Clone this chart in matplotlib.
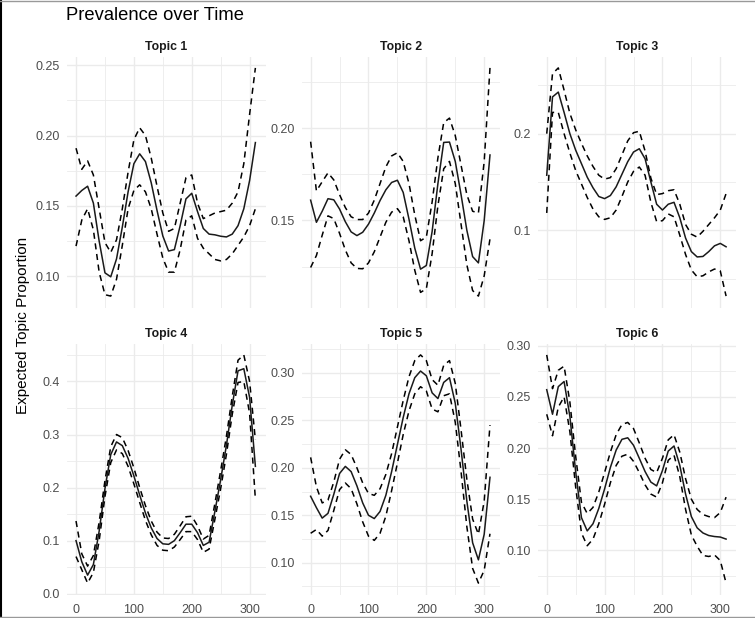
import numpy as np
import matplotlib
matplotlib.use("Agg")
import matplotlib.pyplot as plt
from matplotlib.ticker import MultipleLocator, FormatStrFormatter
from matplotlib.lines import Line2D

plt.rcParams['font.family'] = ['Liberation Sans', 'DejaVu Sans']

# time points (every 10 units)
time = np.arange(0, 320, 10)

topic1_mean = [0.157, 0.161, 0.164, 0.152, 0.125, 0.1025, 0.0997, 0.1124, 0.135, 0.160, 0.180, 0.187,
               0.1815, 0.1664, 0.1468, 0.1287, 0.118, 0.119, 0.136, 0.155, 0.159, 0.146, 0.134, 0.130,
               0.1295, 0.1285, 0.128, 0.130, 0.136, 0.148, 0.168, 0.195]
topic1_upper = [0.191, 0.176, 0.182, 0.172, 0.148, 0.124, 0.117, 0.126, 0.148, 0.174, 0.197, 0.2055,
                0.200, 0.184, 0.164, 0.145, 0.132, 0.134, 0.152, 0.170, 0.172, 0.152, 0.141, 0.143,
                0.145, 0.146, 0.147, 0.152, 0.160, 0.180, 0.215, 0.248]
topic1_lower = [0.1215, 0.140, 0.148, 0.133, 0.103, 0.087, 0.086, 0.098, 0.122, 0.148, 0.161, 0.165,
                0.160, 0.148, 0.130, 0.113, 0.103, 0.103, 0.119, 0.140, 0.143, 0.127, 0.120, 0.116,
                0.112, 0.111, 0.112, 0.116, 0.122, 0.128, 0.136, 0.148]

topic2_mean = [0.161, 0.149, 0.155, 0.1618, 0.1612, 0.1562, 0.1493, 0.1438, 0.1418, 0.1436, 0.148, 0.154,
               0.1608, 0.1666, 0.1706, 0.1718, 0.1652, 0.1507, 0.135, 0.1236, 0.1256, 0.144, 0.170, 0.1923,
               0.1925, 0.182, 0.164, 0.1447, 0.1304, 0.127, 0.150, 0.1855]
topic2_upper = [0.1927, 0.166, 0.171, 0.1758, 0.172, 0.164, 0.157, 0.152, 0.1505, 0.1505, 0.154, 0.161,
                0.170, 0.179, 0.185, 0.1867, 0.182, 0.170, 0.153, 0.139, 0.141, 0.160, 0.184, 0.203,
                0.2055, 0.196, 0.180, 0.164, 0.155, 0.154, 0.182, 0.2327]
topic2_lower = [0.1245, 0.131, 0.142, 0.1525, 0.151, 0.143, 0.134, 0.127, 0.124, 0.1238, 0.127, 0.133,
                0.141, 0.149, 0.1545, 0.1564, 0.152, 0.139, 0.123, 0.111, 0.113, 0.132, 0.158, 0.178,
                0.182, 0.170, 0.148, 0.126, 0.112, 0.109, 0.120, 0.140]

topic3_mean = [0.157, 0.238, 0.243, 0.222, 0.200, 0.183, 0.169, 0.155, 0.144, 0.135, 0.1328, 0.136,
               0.145, 0.158, 0.171, 0.181, 0.1844, 0.174, 0.150, 0.127, 0.121, 0.127, 0.129, 0.113,
               0.092, 0.078, 0.0725, 0.073, 0.078, 0.084, 0.0865, 0.083]
topic3_upper = [0.200, 0.262, 0.268, 0.245, 0.221, 0.204, 0.190, 0.177, 0.166, 0.157, 0.153, 0.1545,
                0.1637, 0.178, 0.1925, 0.201, 0.2025, 0.182, 0.154, 0.137, 0.138, 0.141, 0.142, 0.127,
                0.106, 0.096, 0.093, 0.099, 0.106, 0.113, 0.121, 0.138]
topic3_lower = [0.118, 0.222, 0.222, 0.200, 0.180, 0.162, 0.148, 0.134, 0.122, 0.114, 0.1113, 0.113,
                0.121, 0.135, 0.150, 0.161, 0.1655, 0.157, 0.129, 0.109, 0.110, 0.117, 0.114, 0.095,
                0.075, 0.059, 0.052, 0.053, 0.057, 0.060, 0.058, 0.032]

topic4_mean = [0.100, 0.060, 0.035, 0.055, 0.118, 0.198, 0.262, 0.286, 0.279, 0.255, 0.222, 0.186,
               0.152, 0.124, 0.104, 0.094, 0.093, 0.100, 0.115, 0.131, 0.131, 0.115, 0.091, 0.097,
               0.155, 0.215, 0.280, 0.355, 0.420, 0.424, 0.370, 0.240]
topic4_upper = [0.137, 0.075, 0.052, 0.072, 0.135, 0.213, 0.277, 0.300, 0.294, 0.270, 0.237, 0.200,
                0.166, 0.137, 0.116, 0.105, 0.104, 0.112, 0.128, 0.145, 0.146, 0.128, 0.103, 0.110,
                0.170, 0.232, 0.297, 0.372, 0.440, 0.450, 0.400, 0.290]
topic4_lower = [0.070, 0.045, 0.020, 0.040, 0.100, 0.183, 0.247, 0.271, 0.264, 0.240, 0.207, 0.172,
                0.138, 0.111, 0.091, 0.082, 0.081, 0.088, 0.102, 0.117, 0.117, 0.102, 0.078, 0.084,
                0.140, 0.198, 0.263, 0.338, 0.398, 0.400, 0.340, 0.178]

topic5_mean = [0.170, 0.158, 0.147, 0.152, 0.172, 0.194, 0.2015, 0.196, 0.181, 0.163, 0.150, 0.1465,
               0.154, 0.171, 0.196, 0.2246, 0.253, 0.278, 0.295, 0.302, 0.297, 0.279, 0.273, 0.290,
               0.295, 0.268, 0.2195, 0.165, 0.121, 0.103, 0.130, 0.190]
topic5_upper = [0.211, 0.180, 0.163, 0.166, 0.185, 0.209, 0.219, 0.214, 0.200, 0.184, 0.173, 0.171,
                0.178, 0.193, 0.215, 0.243, 0.271, 0.296, 0.313, 0.319, 0.313, 0.293, 0.287, 0.308,
                0.313, 0.289, 0.240, 0.188, 0.146, 0.130, 0.165, 0.245]
topic5_lower = [0.131, 0.135, 0.128, 0.134, 0.155, 0.177, 0.184, 0.178, 0.162, 0.143, 0.128, 0.1235,
                0.131, 0.149, 0.176, 0.205, 0.235, 0.260, 0.278, 0.2855, 0.281, 0.262, 0.259, 0.276,
                0.278, 0.248, 0.196, 0.138, 0.094, 0.0785, 0.092, 0.1305]

topic6_mean = [0.257, 0.233, 0.260, 0.265, 0.231, 0.177, 0.132, 0.119, 0.126, 0.141, 0.160, 0.181,
               0.198, 0.2085, 0.210, 0.2027, 0.190, 0.177, 0.1667, 0.163, 0.178, 0.197, 0.202, 0.183,
               0.155, 0.133, 0.122, 0.117, 0.1145, 0.1135, 0.113, 0.111]
topic6_upper = [0.291, 0.258, 0.276, 0.280, 0.245, 0.192, 0.147, 0.136, 0.142, 0.157, 0.176, 0.196,
                0.213, 0.223, 0.225, 0.219, 0.205, 0.190, 0.179, 0.176, 0.190, 0.208, 0.213, 0.196,
                0.170, 0.150, 0.140, 0.135, 0.133, 0.132, 0.137, 0.152]
topic6_lower = [0.233, 0.212, 0.240, 0.250, 0.216, 0.162, 0.117, 0.1045, 0.111, 0.126, 0.145, 0.166,
                0.183, 0.192, 0.194, 0.187, 0.176, 0.164, 0.155, 0.152, 0.166, 0.188, 0.193, 0.172,
                0.140, 0.115, 0.104, 0.095, 0.094, 0.0955, 0.090, 0.068]

topic_names = ["Topic 1", "Topic 2", "Topic 3", "Topic 4", "Topic 5", "Topic 6"]
means = [topic1_mean, topic2_mean, topic3_mean, topic4_mean, topic5_mean, topic6_mean]
uppers = [topic1_upper, topic2_upper, topic3_upper, topic4_upper, topic5_upper, topic6_upper]
lowers = [topic1_lower, topic2_lower, topic3_lower, topic4_lower, topic5_lower, topic6_lower]
y_steps = [0.05, 0.05, 0.1, 0.1, 0.05, 0.05]
x_ticks = [0, 100, 200, 300]

W, H = 755, 618
fig = plt.figure(figsize=(W / 100, H / 100), dpi=100)

lefts = [67 / W, 301.6 / W, 537.7 / W]
width = 0.263
bottoms = [1 - 307.5 / H, 1 - 594.5 / H]
height = 251 / H

grid_col = '#EBEBEB'
tick_col = '#4D4D4D'

for i in range(6):
    row, col = divmod(i, 3)
    ax = fig.add_axes([lefts[col], bottoms[row], width, height])
    ax.plot(time, means[i], color='#1a1a1a', lw=1.1)
    ax.plot(time, uppers[i], color='black', lw=1.1, linestyle=(0, (4, 3)))
    ax.plot(time, lowers[i], color='black', lw=1.1, linestyle=(0, (4, 3)))
    ax.set_xlim(-15.6, 327.6)
    ax.margins(y=0.05)

    step = y_steps[i]
    ax.yaxis.set_major_locator(MultipleLocator(step))
    ax.yaxis.set_minor_locator(MultipleLocator(step / 2))
    ax.yaxis.set_major_formatter(FormatStrFormatter('%.2f' if step < 0.1 else '%.1f'))
    ax.set_xticks(x_ticks)
    ax.xaxis.set_minor_locator(MultipleLocator(50))

    ax.grid(True, which='major', color=grid_col, lw=1.0)
    ax.grid(True, which='minor', color=grid_col, lw=0.6)
    ax.set_axisbelow(True)
    for s in ax.spines.values():
        s.set_visible(False)
    ax.tick_params(which='both', length=0, labelsize=9, labelcolor=tick_col)
    ax.tick_params(axis='y', pad=5)
    ax.tick_params(axis='x', pad=6.5)
    if row == 0:
        ax.tick_params(axis='x', labelbottom=False)
    ax.set_title(topic_names[i], fontsize=8.8, fontweight='bold', color='#1A1A1A', pad=5)

fig.text(66 / W, 1 - 15 / H, "Prevalence over Time", fontsize=13.2, ha='left', va='center', color='black')
fig.text(23 / W, 1 - 325 / H, "Expected Topic Proportion", fontsize=11, rotation=90,
         ha='center', va='center', color='black')

# frame edges
fig.add_artist(Line2D([0.5 / W, 0.5 / W], [0, 1], transform=fig.transFigure, color='black', lw=1.5))
fig.add_artist(Line2D([0, 1], [1 - 0.5 / H, 1 - 0.5 / H], transform=fig.transFigure, color='#999999', lw=1))
fig.add_artist(Line2D([0, 1], [1 - 616.5 / H, 1 - 616.5 / H], transform=fig.transFigure, color='#999999', lw=1))

fig.savefig("out.png", dpi=100)
